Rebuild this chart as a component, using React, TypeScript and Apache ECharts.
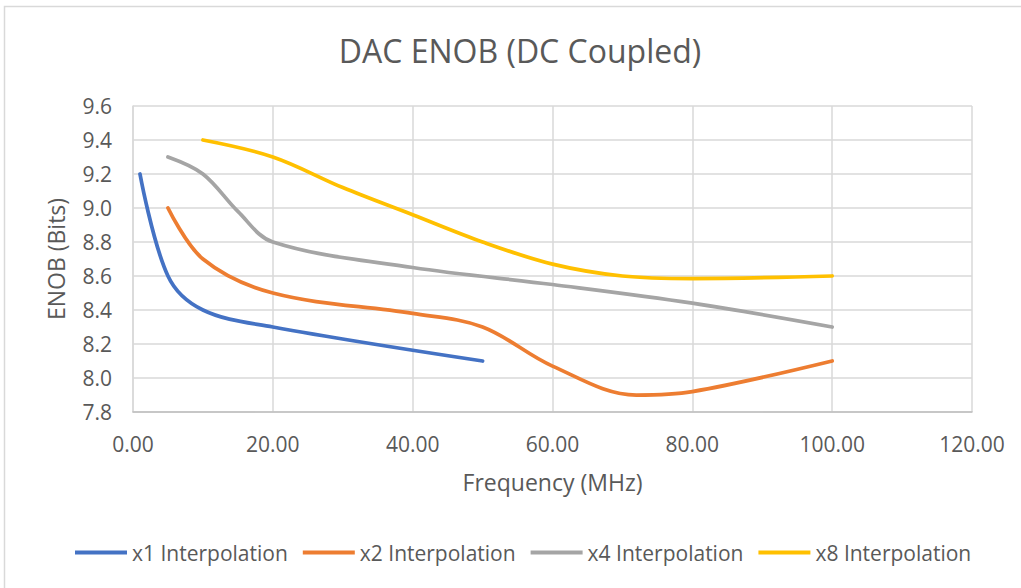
import React, { useEffect, useRef } from "react";
import * as echarts from "echarts";

const seriesNames = ["x1 Interpolation", "x2 Interpolation", "x4 Interpolation", "x8 Interpolation"];
const seriesColors = ["#4472C4", "#ED7D31", "#A5A5A5", "#FFC000"];

const x1Freq = [1, 5, 10, 20, 50];
const x1Enob = [9.2, 8.6, 8.4, 8.3, 8.1];

const x2Freq = [5, 10, 20, 40, 50, 60, 72, 80, 100];
const x2Enob = [9.0, 8.7, 8.5, 8.38, 8.3, 8.07, 7.9, 7.92, 8.1];

const x4Freq = [5, 10, 15, 20, 40, 60, 80, 100];
const x4Enob = [9.3, 9.2, 8.98, 8.8, 8.65, 8.55, 8.44, 8.3];

const x8Freq = [10, 20, 30, 40, 50, 60, 70, 80, 100];
const x8Enob = [9.4, 9.3, 9.12, 8.96, 8.8, 8.67, 8.6, 8.585, 8.6];

const freqs = [x1Freq, x2Freq, x4Freq, x8Freq];
const enobs = [x1Enob, x2Enob, x4Enob, x8Enob];

const FONT = "'Open Sans', 'Noto Sans', sans-serif";
const TEXT = "#595959";

export default function App() {
  const ref = useRef<HTMLDivElement>(null);
  useEffect(() => {
    if (!ref.current) return;
    const chart = echarts.init(ref.current, undefined, { renderer: "svg" });
    chart.setOption({
      animation: false,
      backgroundColor: "#ffffff",
      title: {
        text: "DAC ENOB (DC Coupled)",
        left: 515,
        top: 29,
        textAlign: "center",
        textStyle: { fontFamily: FONT, fontSize: 32, fontWeight: "normal", color: TEXT },
      },
      graphic: [
        {
          type: "rect",
          shape: { x: 4.5, y: 6.5, width: 1040, height: 600 },
          style: { fill: "none", stroke: "#d9d9d9", lineWidth: 1.5 },
          silent: true,
        },
      ],
      legend: {
        top: 537,
        left: 70,
        icon: "rect",
        itemWidth: 52,
        itemHeight: 4,
        itemGap: 15,
        textStyle: { fontFamily: FONT, fontSize: 21, color: TEXT },
        data: seriesNames,
      },
      grid: { left: 133, right: 49, top: 106, bottom: 176, containLabel: false },
      xAxis: {
        type: "value",
        min: 0,
        max: 120,
        interval: 20,
        name: "Frequency (MHz)",
        nameLocation: "middle",
        nameGap: 58,
        nameTextStyle: { fontFamily: FONT, fontSize: 23, color: TEXT },
        axisLine: { lineStyle: { color: "#bfbfbf", width: 1.5 } },
        axisTick: { show: false },
        axisLabel: {
          fontFamily: FONT,
          fontSize: 21,
          color: TEXT,
          margin: 21,
          formatter: (v: number) => v.toFixed(2),
        },
        splitLine: { show: true, lineStyle: { color: "#d9d9d9", width: 1.5 } },
      },
      yAxis: {
        type: "value",
        min: 7.8,
        max: 9.6,
        interval: 0.2,
        name: "ENOB (Bits)",
        nameLocation: "middle",
        nameGap: 66,
        nameRotate: 90,
        nameTextStyle: { fontFamily: FONT, fontSize: 23, color: TEXT },
        axisLine: { show: true, lineStyle: { color: "#d9d9d9", width: 1.5 } },
        axisTick: { show: false },
        axisLabel: {
          fontFamily: FONT,
          fontSize: 21,
          color: TEXT,
          margin: 21,
          formatter: (v: number) => v.toFixed(1),
        },
        splitLine: { show: true, lineStyle: { color: "#d9d9d9", width: 1.5 } },
      },
      series: seriesNames.map((name, i) => ({
        name,
        type: "line",
        smooth: 0.35,
        showSymbol: false,
        symbol: "none",
        color: seriesColors[i],
        lineStyle: { width: 3.75, color: seriesColors[i], cap: "round" },
        data: freqs[i].map((f, j) => [f, enobs[i][j]]),
      })),
    });
    return () => chart.dispose();
  }, []);
  return (
    <div
      ref={ref}
      style={{ position: "absolute", left: 0, top: 0, width: 1021, height: 588 }}
    />
  );
}
